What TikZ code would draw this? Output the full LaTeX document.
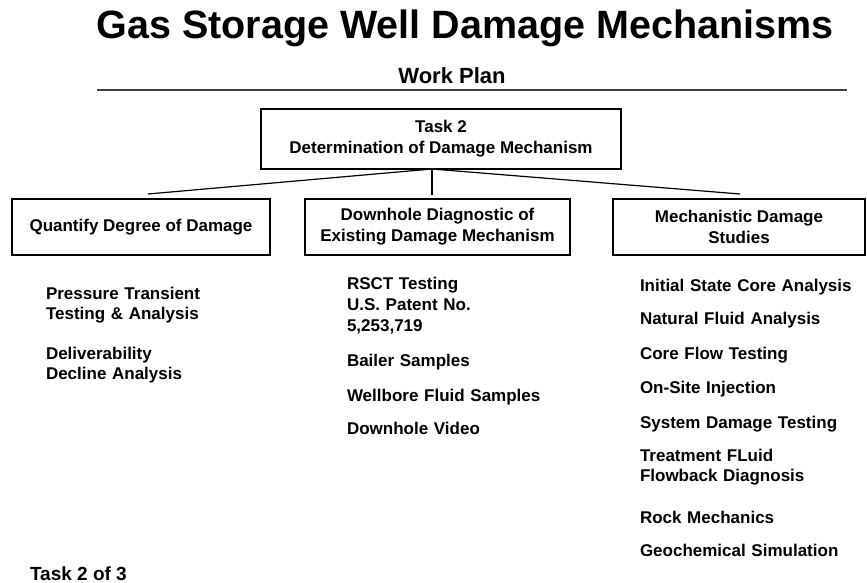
\documentclass[tikz,border=0pt]{standalone}
\usepackage{fontspec}
\setmainfont{Liberation Sans}
\begin{document}
\begin{tikzpicture}[x=1pt,y=-1pt,
  every node/.style={inner sep=0pt,outer sep=0pt,font=\bfseries},
  boxnode/.style={draw,line width=1.3pt,align=center,font=\bfseries\fontsize{17}{21}\selectfont},
  item/.style={anchor=base west,text width=240pt,align=left,font=\bfseries\fontsize{17}{20}\selectfont},
  link/.style={line width=1.2pt}]
\useasboundingbox (0,0) rectangle (867,583);
\node[anchor=base,font=\bfseries\fontsize{39.5}{44}\selectfont] (title) at (465,39) {Gas Storage Well Damage Mechanisms};
\node[anchor=base,font=\bfseries\fontsize{22}{25}\selectfont] (plan) at (452,84) {Work Plan};
\coordinate (rl) at (97,90);
\coordinate (rr) at (847,90);
\draw[line width=2pt,black!75] (rl) -- (rr);
\node[boxnode,minimum width=360pt,minimum height=60pt] (top) at (441,139) {Task 2\\Determination of Damage Mechanism};
\node[boxnode,minimum width=258pt,minimum height=56pt] (b1) at (141,227) {Quantify Degree of Damage};
\node[boxnode,minimum width=265pt,minimum height=56pt] (b2) at (437.5,227) {Downhole Diagnostic of\\Existing Damage Mechanism};
\node[boxnode,minimum width=252pt,minimum height=56pt] (b3) at (739,227) {Mechanistic Damage\\Studies};
\coordinate (hub) at ([xshift=-9pt]top.south);
\coordinate (e1) at (148,194);
\coordinate (e2) at (432,195);
\coordinate (e3) at (740,194);
\draw[link] (hub) -- (e1);
\draw[link] (hub) -- (e2);
\draw[link] (hub) -- (e3);
% left list
\node[item] (l1) at (46,299) {Pressure Transient\\Testing \& Analysis};
\node[item] (l2) at (46,359) {Deliverability\\Decline Analysis};
% middle list
\node[item,font=\bfseries\fontsize{17}{21}\selectfont] (m1) at (347,289) {RSCT Testing\\U.S. Patent No.\\5,253,719};
\node[item] (m2) at (347,366) {Bailer Samples};
\node[item] (m3) at (347,401) {Wellbore Fluid Samples};
\node[item] (m4) at (347,434) {Downhole Video};
% right list
\node[item] (r1) at (640,291) {Initial State Core Analysis};
\node[item] (r2) at (640,324) {Natural Fluid Analysis};
\node[item] (r3) at (640,359) {Core Flow Testing};
\node[item] (r4) at (640,393) {On-Site Injection};
\node[item] (r5) at (640,428) {System Damage Testing};
\node[item] (r6) at (640,461) {Treatment FLuid\\Flowback Diagnosis};
\node[item] (r7) at (640,523) {Rock Mechanics};
\node[item] (r8) at (640,556) {Geochemical Simulation};
\node[anchor=base west,font=\bfseries\fontsize{19}{22}\selectfont] (foot) at (30,580) {Task 2 of 3};
\end{tikzpicture}
\end{document}
